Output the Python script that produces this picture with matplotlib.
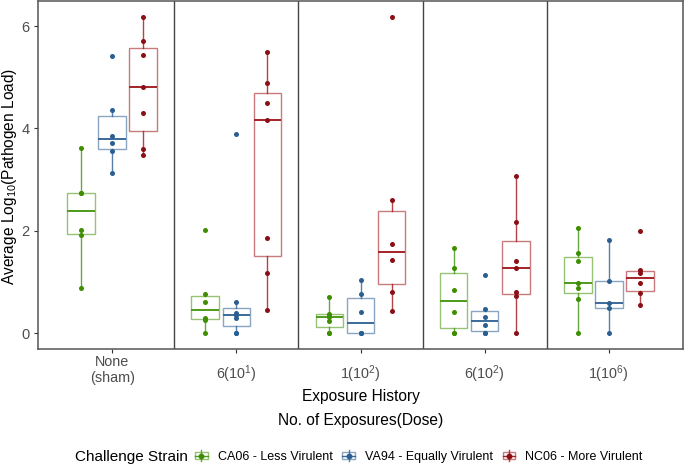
import matplotlib
matplotlib.use("Agg")
import matplotlib.pyplot as plt
import matplotlib.colors as mcolors
from matplotlib.legend_handler import HandlerBase
from matplotlib.patches import Rectangle
from matplotlib.lines import Line2D

plt.rcParams["font.family"] = ["Liberation Sans", "DejaVu Sans"]
plt.rcParams["mathtext.fontset"] = "custom"
plt.rcParams["mathtext.rm"] = "Liberation Sans"
plt.rcParams["mathtext.default"] = "regular"

categories = ["None\n(sham)", "$6(10^{1})$", "$1(10^{2})$", "$6(10^{2})$", "$1(10^{6})$"]
strains = ["CA06 - Less Virulent", "VA94 - Equally Virulent", "NC06 - More Virulent"]

ca06 = [
    [0.89, 1.92, 2.02, 2.74, 2.74, 3.62],
    [0.0, 0.26, 0.30, 0.62, 0.77, 2.01],
    [0.0, 0.0, 0.24, 0.31, 0.36, 0.38, 0.70],
    [0.0, 0.0, 0.42, 0.85, 1.28, 1.66],
    [0.0, 0.67, 0.89, 0.98, 1.41, 1.56, 2.05],
]
va94 = [
    [3.14, 3.56, 3.71, 3.86, 4.36, 5.42],
    [0.0, 0.0, 0.30, 0.35, 0.39, 0.61, 3.89],
    [0.0, 0.0, 0.0, 0.42, 0.77, 1.04],
    [0.0, 0.0, 0.17, 0.32, 0.47, 1.14],
    [0.0, 0.49, 0.59, 1.03, 1.82],
]
nc06 = [
    [3.48, 3.60, 4.30, 4.81, 5.44, 5.71, 6.18],
    [0.45, 1.17, 1.86, 4.17, 4.50, 4.89, 5.49],
    [0.43, 0.81, 1.44, 1.74, 2.60, 6.18],
    [0.0, 0.72, 0.80, 1.28, 1.41, 2.18, 3.07],
    [0.56, 0.78, 0.98, 1.17, 1.24, 1.99],
]

series = [ca06, va94, nc06]
line_colors = ["#4E9A1A", "#3A6A9A", "#A52228"]
point_colors = ["#3E8E00", "#2B5F92", "#8A1015"]
offsets = [-0.25, 0.0, 0.25]


class BoxKey(HandlerBase):
    def create_artists(self, legend, orig_handle, xd, yd, w, h, fontsize, trans):
        c = orig_handle.get_color()
        pc = orig_handle.get_markerfacecolor()
        x0, y0 = -xd, -yd
        cx, cy = x0 + w / 2, y0 + h / 2
        bh = h * 0.62
        box = Rectangle((x0, cy - bh / 2), w, bh, facecolor="white",
                        edgecolor=mcolors.to_rgba(c, 0.6), lw=1.0, transform=trans)
        vline = Line2D([cx, cx], [y0, y0 + h], color=mcolors.to_rgba(c, 0.85),
                       lw=1.0, transform=trans)
        hline = Line2D([x0, x0 + w], [cy, cy], color=c, lw=1.0, transform=trans)
        dot = Line2D([cx], [cy], marker="o", ms=3.2, color=pc, ls="none", transform=trans)
        return [box, vline, hline, dot]


W, H = 685, 466
fig = plt.figure(figsize=(W / 100, H / 100), dpi=100)
ax = fig.add_axes([38 / W, (H - 349) / H, 645 / W, 348 / H])

for data, c, pc, off in zip(series, line_colors, point_colors, offsets):
    pos = [i + 1 + off for i in range(len(data))]
    ax.boxplot(data, positions=pos, widths=0.225, showcaps=False, showfliers=False,
               patch_artist=True, manage_ticks=False,
               boxprops=dict(facecolor="white", edgecolor=mcolors.to_rgba(c, 0.6), lw=1.0),
               whiskerprops=dict(color=mcolors.to_rgba(c, 0.85), lw=1.0),
               medianprops=dict(color=c, lw=1.4))
    for p, vals in zip(pos, data):
        ax.scatter([p] * len(vals), vals, s=13, color=pc, zorder=3, linewidths=0)

for x in [1.5, 2.5, 3.5, 4.5]:
    ax.axvline(x, color="#444444", lw=1.0)

ax.set_xlim(0.4, 5.6)
ax.set_ylim(-0.307, 6.49)
ax.set_yticks([0, 2, 4, 6])
ax.set_xticks(range(1, 6))
ax.set_xticklabels([""] * 5)
ax.tick_params(direction="out", length=2.8, width=0.8, color="#333333",
               labelcolor="#4D4D4D", labelsize=10.5)
for sp in ax.spines.values():
    sp.set_color("#555555")
    sp.set_linewidth(1.1)

for i, lab in enumerate(categories):
    ax.text(i + 1, -0.103, lab, transform=ax.get_xaxis_transform(), ha="center",
            va="bottom", fontsize=10.4, color="#4D4D4D", linespacing=1.2)

fig.text(360.5 / W, 1 - 396 / H, "Exposure History", ha="center", va="center", fontsize=11.2)
fig.text(360.5 / W, 1 - 421 / H, "No. of Exposures(Dose)", ha="center", va="center", fontsize=11.2)
fig.text(10 / W, 1 - 176 / H, "Average Log$_{10}$(Pathogen Load)", rotation=90,
         ha="center", va="center", fontsize=11.2)

fig.text(75 / W, 1 - 456.7 / H, "Challenge Strain", ha="left", va="center", fontsize=11)
handles = [Line2D([], [], color=c, markerfacecolor=pc)
           for c, pc in zip(line_colors, point_colors)]
fig.legend(handles, strains, handler_map={Line2D: BoxKey()}, loc="center left",
           bbox_to_anchor=(195 / W, 1 - 456.7 / H), ncol=3, frameon=False,
           fontsize=9.0, handlelength=1.0, handleheight=1.0, handletextpad=0.8,
           columnspacing=0.8, borderpad=0, borderaxespad=0)

fig.savefig("out.png", dpi=100)
